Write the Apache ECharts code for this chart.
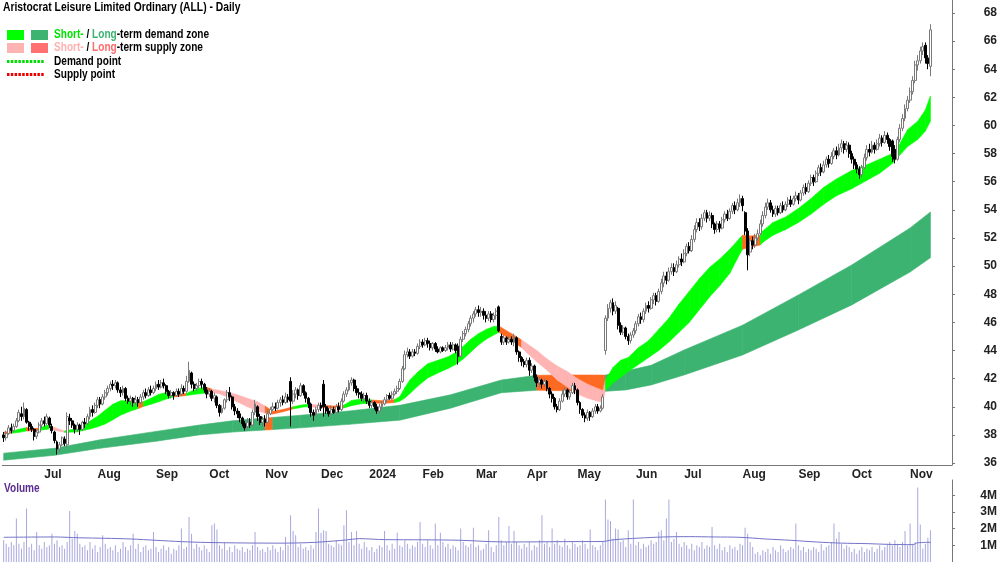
<!DOCTYPE html>
<html lang="en">
<head>
<meta charset="UTF-8">
<title>Aristocrat Leisure Limited Ordinary (ALL) - Daily</title>
<script src="https://cdn.jsdelivr.net/npm/echarts@6/dist/echarts.min.js"></script>
<style>
  html, body { margin: 0; padding: 0; background: #fff; }
  #chart { width: 1000px; height: 562px; }
</style>
</head>
<body>
<div id="chart"></div>
<script>
// trading days start here, ASX holidays skipped, a few empty days kept on the right
var firstDay = [2023, 5, 8];
var asxHolidays = ['2023-06-12', '2023-12-25', '2023-12-26', '2024-01-01', '2024-01-26',
  '2024-03-29', '2024-04-01', '2024-04-25', '2024-06-10'];
var padDays = 8;
var monthNames = ['Jan', 'Feb', 'Mar', 'Apr', 'May', 'Jun', 'Jul', 'Aug', 'Sep', 'Oct', 'Nov', 'Dec'];

// daily candles [open, close, low, high]
var ohlc = [
  [38.0,37.8,37.5,38.2],[37.8,38.1,37.6,38.3],[38.1,38.5,38.0,38.7],[38.5,38.3,38.1,38.8],[38.3,38.6,38.2,38.8],
  [38.6,39.0,38.5,39.2],[39.0,39.6,38.9,39.8],[39.5,39.3,39.0,40.0],[39.3,39.9,39.1,40.3],[39.8,38.9,38.8,39.9],
  [38.9,38.6,38.3,39.0],[38.6,38.4,38.2,38.8],[38.4,37.9,37.6,38.5],[37.9,38.2,37.7,38.4],[38.2,38.7,38.1,38.9],
  [38.7,39.0,38.5,39.2],[39.0,38.8,38.6,39.3],[38.8,39.3,38.7,39.5],[39.2,38.7,38.5,39.3],[38.6,38.3,38.1,38.8],
  [38.2,37.6,37.4,38.3],[37.5,37.0,36.6,37.6],[37.0,37.3,36.8,37.5],[37.3,37.8,37.2,37.9],[37.7,37.4,37.2,37.9],
  [37.3,39.3,37.1,39.6],[39.2,39.0,38.7,39.5],[39.0,38.7,38.5,39.2],[38.7,38.4,38.1,38.8],[38.4,38.7,38.2,38.9],
  [38.7,38.4,38.0,38.8],[38.4,38.9,38.3,39.0],[38.9,38.8,38.5,39.2],[38.8,39.3,38.7,39.5],[39.3,39.8,39.1,40.0],
  [39.8,39.6,39.3,40.1],[39.6,40.1,39.5,40.3],[40.1,40.5,39.9,40.7],[40.5,40.2,39.9,40.7],[40.2,40.7,40.1,40.9],
  [40.7,41.0,40.5,41.2],[41.0,41.3,40.8,41.5],[41.3,41.6,41.1,41.8],[41.6,41.5,41.2,41.9],[41.5,41.7,41.3,41.9],
  [41.7,41.2,41.0,41.8],[41.2,41.0,40.7,41.4],[41.0,41.3,40.8,41.5],[41.3,40.6,40.4,41.4],[40.6,40.4,40.2,40.8],
  [40.4,40.6,40.1,40.8],[40.6,40.3,40.0,40.7],[40.3,40.5,40.1,40.8],[40.5,40.3,40.0,40.7],[40.3,40.7,40.2,40.9],
  [40.7,41.0,40.5,41.2],[41.0,40.8,40.6,41.3],[40.8,41.2,40.7,41.4],[41.2,41.0,40.8,41.5],[41.0,41.3,40.9,41.5],
  [41.3,41.6,41.1,41.8],[41.6,41.4,41.2,41.9],[41.4,41.7,41.3,41.9],[41.7,41.5,41.3,42.0],[41.5,41.1,40.9,41.6],
  [41.1,40.8,40.6,41.2],[40.8,41.0,40.6,41.2],[41.0,40.8,40.5,41.1],[40.8,41.1,40.7,41.3],[41.1,40.9,40.7,41.3],
  [40.9,41.3,40.8,41.6],[41.3,41.1,40.9,41.5],[41.1,41.8,41.0,42.2],[41.8,42.6,41.7,43.2],[42.4,41.6,41.3,42.5],
  [41.6,41.3,41.1,41.8],[41.3,41.5,41.1,41.7],[41.5,41.8,41.3,42.0],[41.8,41.6,41.3,42.0],[41.6,41.2,41.0,41.7],
  [41.2,40.9,40.6,41.4],[40.9,41.1,40.7,41.3],[41.1,40.6,40.4,41.2],[40.6,40.8,40.3,41.0],[40.7,40.1,39.9,40.8],
  [40.1,39.6,39.3,40.2],[39.6,39.9,39.5,40.1],[39.9,40.5,39.8,40.6],[40.5,41.0,40.3,41.2],[41.0,40.7,40.4,41.4],
  [40.7,40.0,39.8,40.8],[40.0,39.7,39.4,40.2],[39.7,39.5,39.2,39.9],[39.5,39.2,38.9,39.7],[39.2,38.8,38.6,39.3],
  [38.8,38.5,38.3,39.0],[38.6,38.9,38.4,39.2],[38.9,38.7,38.5,39.2],[38.7,39.6,38.6,39.8],[39.6,40.2,39.4,40.5],
  [40.0,39.3,39.0,40.1],[39.3,38.9,38.7,39.5],[38.9,39.1,38.6,39.3],[39.1,38.9,38.6,39.4],[38.9,39.5,38.8,39.8],
  [39.5,39.8,39.4,40.0],[39.8,40.0,39.7,40.3],[40.0,39.9,39.7,40.3],[39.9,40.3,39.8,40.5],[40.3,40.5,40.0,40.7],
  [40.5,40.3,40.1,40.8],[40.3,40.7,40.2,41.0],[40.7,40.5,40.3,40.9],[41.8,40.4,38.6,42.1],[40.4,40.9,40.2,41.2],
  [40.9,41.2,40.6,41.4],[41.2,40.8,40.5,41.3],[40.8,41.5,40.7,41.7],[41.5,41.0,40.8,41.6],[41.0,40.6,40.3,41.1],
  [40.6,40.2,39.9,40.7],[40.2,39.6,39.3,40.3],[39.6,39.4,39.0,39.8],[39.4,39.8,39.3,40.0],[39.8,40.1,39.6,40.3],
  [40.1,39.9,39.7,40.3],[41.6,40.0,39.3,41.9],[40.0,39.7,39.5,40.2],[39.7,39.5,39.3,39.9],[39.5,39.8,39.4,40.1],
  [39.8,39.6,39.5,40.0],[39.6,40.0,39.5,40.2],[40.0,39.8,39.6,40.3],[39.8,40.4,39.7,40.6],[40.4,40.9,40.3,41.1],
  [40.9,41.2,40.7,41.4],[41.2,41.7,41.1,41.9],[41.7,41.9,41.5,42.1],[41.9,41.3,41.1,42.0],[41.3,41.0,40.8,41.5],
  [41.0,40.9,40.6,41.3],[40.9,40.6,40.4,41.1],[40.6,40.8,40.3,41.0],[40.8,40.4,40.2,41.0],[40.4,40.1,39.9,40.6],
  [40.1,40.3,39.9,40.5],[40.3,40.0,39.8,40.4],[40.0,39.7,39.5,40.2],[39.7,40.0,39.5,40.2],[40.0,40.2,39.8,40.4],
  [40.2,40.5,40.1,40.7],[40.5,40.8,40.3,40.9],[40.8,40.6,40.5,41.0],[40.6,40.9,40.5,41.1],[40.9,41.1,40.8,41.3],
  [41.1,41.3,40.9,41.5],[41.3,41.8,41.2,42.0],[41.8,42.7,41.7,42.9],[42.7,43.7,42.6,44.0],[43.7,43.9,43.5,44.2],
  [43.9,43.6,43.4,44.1],[43.6,43.9,43.5,44.1],[43.9,43.8,43.6,44.1],[43.8,44.3,43.7,44.5],[44.3,44.6,44.1,44.8],
  [44.6,44.4,44.2,44.8],[44.4,44.7,44.3,44.9],[44.7,44.5,44.2,44.9],[44.5,44.2,44.0,44.7],[44.2,44.5,44.0,44.6],
  [44.5,44.1,43.9,44.6],[44.1,43.9,43.8,44.3],[43.9,44.2,43.8,44.3],[44.2,44.0,43.9,44.3],[44.0,44.2,43.9,44.4],
  [44.2,44.4,44.0,44.6],[44.4,44.1,43.9,44.6],[44.1,44.4,44.0,44.6],[44.4,44.0,43.8,44.5],[44.3,43.6,43.0,44.5],
  [43.6,44.8,43.5,45.0],[44.8,45.2,44.6,45.4],[45.2,45.5,45.0,45.7],[45.5,45.9,45.3,46.1],[45.9,46.3,45.7,46.5],
  [46.3,46.6,46.0,46.8],[46.6,46.9,46.4,47.1],[46.9,46.7,46.4,47.2],[46.7,46.8,46.4,47.1],[46.8,46.5,46.2,47.0],
  [46.5,46.3,46.0,46.8],[46.3,46.6,46.1,46.8],[46.6,46.2,46.0,46.8],[46.2,46.5,46.0,46.7],[46.5,46.8,46.2,47.0],
  [47.1,45.4,45.3,47.2],[45.0,44.6,44.4,45.2],[44.6,44.9,44.4,45.1],[44.9,44.6,44.4,45.0],[44.6,44.8,44.5,45.0],
  [44.8,44.6,44.4,45.0],[44.6,45.0,44.3,45.2],[44.9,43.9,43.7,45.0],[43.9,43.5,43.2,44.0],[43.5,43.2,42.9,43.6],
  [43.2,43.0,42.8,43.4],[43.0,43.3,42.8,43.5],[43.3,42.6,42.2,43.5],[42.6,42.9,42.4,43.1],[42.9,42.1,41.8,43.0],
  [42.1,41.7,41.4,42.3],[41.7,41.9,41.4,42.1],[41.9,41.6,41.3,42.0],[41.6,41.8,41.4,42.0],[41.8,41.3,41.1,41.9],
  [41.3,40.9,40.6,41.4],[40.9,40.6,40.3,41.1],[40.6,40.0,39.8,40.7],[40.0,39.8,39.6,40.2],[39.8,40.4,39.7,40.6],
  [40.4,40.9,40.3,41.2],[40.9,41.2,40.7,41.4],[41.2,40.7,40.5,41.3],[40.7,41.0,40.5,41.2],[41.0,41.5,40.9,41.7],
  [41.5,41.2,40.9,41.7],[41.2,40.3,40.1,41.3],[40.3,39.8,39.5,40.4],[39.8,39.4,39.2,39.9],[39.4,39.2,38.9,39.6],
  [39.2,39.6,39.0,39.8],[39.6,39.3,39.0,39.7],[39.3,39.7,39.2,39.9],[39.7,40.0,39.5,40.2],[40.0,39.7,39.5,40.2],
  [39.7,39.9,39.6,40.1],[39.9,40.7,39.8,40.9],[44.0,46.3,43.7,46.5],[46.3,47.0,46.1,47.3],[47.0,47.4,46.7,47.6],
  [47.4,46.8,46.5,47.7],[46.8,47.2,46.6,47.5],[47.0,45.8,45.5,47.1],[45.8,45.3,45.1,46.0],[45.3,45.6,45.1,45.8],
  [45.6,45.0,44.8,45.7],[45.0,44.7,44.4,45.2],[44.7,45.1,44.5,45.3],[45.1,45.4,44.9,45.6],[45.4,45.9,45.2,46.1],
  [45.9,46.4,45.7,46.6],[46.4,46.2,45.9,46.7],[46.2,46.8,46.0,47.0],[46.8,47.2,46.6,47.4],[47.2,47.0,46.7,47.5],
  [47.0,47.6,46.9,47.8],[47.6,47.9,47.3,48.1],[47.9,47.5,47.2,48.1],[47.5,48.2,47.4,48.4],[48.2,48.8,48.0,49.1],
  [48.8,49.3,48.5,49.6],[49.3,49.0,48.7,49.6],[49.0,49.6,48.9,49.9],[49.6,49.9,49.4,50.2],[49.9,49.6,49.3,50.2],
  [49.6,50.1,49.5,50.4],[50.1,50.5,49.9,50.7],[50.5,50.3,50.0,50.9],[50.3,50.9,50.2,51.2],[50.9,51.4,50.7,51.6],
  [51.4,51.1,50.9,51.7],[51.1,51.9,51.0,52.2],[51.9,52.6,51.7,52.9],[52.6,53.1,52.4,53.4],[53.1,52.8,52.5,53.4],
  [52.8,53.4,52.6,53.7],[53.4,53.8,53.2,54.0],[53.8,53.4,53.1,54.0],[53.4,53.6,53.2,53.9],[53.6,53.0,52.7,53.8],
  [53.0,52.6,52.3,53.1],[52.6,53.0,52.4,53.2],[53.0,52.7,52.4,53.2],[52.7,53.3,52.6,53.5],[53.3,53.7,53.1,53.9],
  [53.7,53.4,53.2,54.0],[53.4,53.9,53.3,54.1],[53.9,54.3,53.7,54.5],[54.3,54.0,53.7,54.6],[54.0,54.5,53.9,54.8],
  [54.5,54.8,54.2,55.1],[54.8,54.3,53.9,55.0],[53.8,52.5,52.2,53.9],[52.5,50.8,49.7,52.7],[51.0,51.8,50.7,52.0],
  [51.8,51.5,51.2,52.1],[51.5,52.0,51.3,52.3],[52.0,52.3,51.8,52.6],[52.3,53.0,52.2,53.3],[53.0,53.6,52.8,53.9],
  [53.6,54.2,53.4,54.5],[54.2,54.5,54.0,54.8],[54.5,54.0,53.8,54.7],[54.0,53.7,53.5,54.3],[53.7,54.1,53.5,54.3],
  [54.1,53.8,53.6,54.3],[53.8,54.3,53.7,54.5],[54.3,54.0,53.8,54.6],[54.0,54.4,53.9,54.6],[54.4,54.7,54.2,54.9],
  [54.7,54.4,54.2,55.0],[54.4,54.8,54.3,55.0],[54.8,55.0,54.6,55.3],[55.0,54.7,54.4,55.2],[54.7,55.2,54.6,55.4],
  [55.2,55.6,55.0,55.8],[55.6,55.3,55.1,55.9],[55.3,55.9,55.2,56.1],[55.9,56.3,55.7,56.5],[56.3,56.0,55.7,56.5],
  [56.0,56.6,55.9,56.8],[56.6,57.0,56.4,57.2],[57.0,56.7,56.4,57.3],[56.7,57.2,56.6,57.5],[57.2,57.6,57.0,57.8],
  [57.6,57.3,57.0,57.9],[57.3,57.8,57.2,58.1],[57.8,58.2,57.6,58.4],[58.2,57.9,57.6,58.5],[57.9,58.4,57.8,58.7],
  [58.4,58.7,58.1,59.0],[58.7,58.3,58.0,58.9],[58.3,58.6,58.1,58.9],[58.6,58.0,57.7,58.8],[58.0,57.6,57.3,58.2],
  [57.6,57.2,56.9,57.8],[57.2,56.9,56.6,57.4],[56.9,56.5,56.2,57.1],[56.5,57.0,56.3,57.2],[57.0,57.7,56.9,58.0],
  [57.7,58.3,57.5,58.6],[58.3,58.1,57.8,58.7],[58.1,58.6,58.0,58.9],[58.6,58.3,58.0,58.8],[58.3,58.7,58.2,59.0],
  [58.7,59.1,58.5,59.4],[59.1,58.8,58.5,59.3],[58.8,59.3,58.7,59.6],[59.3,59.0,58.7,59.5],[59.0,58.5,58.2,59.1],
  [58.9,57.8,57.4,59.0],[58.3,57.6,57.3,58.6],[57.6,59.0,57.5,59.2],[59.0,59.8,58.8,60.1],[59.8,60.5,59.6,60.8],
  [60.5,61.2,60.3,61.5],[61.2,61.8,61.0,62.1],[61.8,62.4,61.6,62.7],[62.4,63.2,62.2,63.5],[63.2,64.3,63.0,64.6],
  [64.3,64.6,63.9,65.0],[64.6,65.3,64.4,65.6],[65.3,65.6,65.0,65.9],[65.7,64.8,64.4,65.9],[64.8,64.4,64.0,65.0],
  [64.2,66.8,63.5,67.2]
];

// daily volume, millions
var volumes = [
  1.3,1.1,0.9,1.2,1.0,2.6,1.1,0.8,1.2,3.2,0.9,1.1,0.7,1.8,1.0,0.8,1.2,0.9,1.0,1.7,
  1.1,1.3,0.9,1.0,0.8,1.2,3.05,1.4,1.85,1.7,1.1,0.9,1.0,0.7,1.2,0.8,1.0,0.6,0.9,1.6,
  1.1,0.8,0.9,0.7,1.0,0.6,0.8,1.2,0.9,0.7,1.0,1.7,0.8,1.1,0.6,0.9,1.0,0.7,0.8,1.8,
  0.9,0.6,0.8,1.0,0.7,0.9,0.5,0.8,0.7,1.0,2.0,0.8,0.9,2.7,1.7,0.8,1.1,0.9,0.7,1.0,
  0.8,0.6,2.2,2.3,1.95,1.0,0.8,1.2,0.7,0.9,0.6,1.0,0.8,0.7,0.9,0.6,0.8,0.7,1.0,1.8,
  0.9,0.7,0.8,0.6,0.9,0.7,1.0,0.8,0.6,0.9,0.7,1.5,1.0,2.8,1.85,1.6,0.9,1.1,0.8,0.9,
  0.7,1.0,0.8,1.8,3.2,1.75,1.9,1.85,1.1,1.0,0.9,1.3,1.1,1.0,2.2,3.1,1.2,1.8,1.0,1.85,
  1.1,0.8,1.2,0.9,0.7,0.9,0.6,0.8,1.0,0.9,1.85,1.0,0.7,1.1,0.8,1.75,1.0,0.9,1.3,1.1,
  0.8,1.0,0.9,1.2,2.4,1.1,0.9,1.3,1.0,0.8,2.3,1.0,1.75,1.2,0.9,1.1,0.8,1.0,0.9,0.7,
  2.0,1.2,1.0,0.9,1.1,2.05,0.9,1.0,0.7,0.8,1.1,1.9,0.9,0.6,1.0,2.7,1.3,1.0,1.2,2.15,
  1.1,1.85,1.2,1.0,0.8,1.1,0.9,1.2,0.7,1.0,0.9,1.3,2.8,1.1,1.2,0.9,2.0,1.1,1.3,1.0,
  0.9,1.4,1.0,0.8,1.2,1.1,0.9,1.0,1.3,1.1,0.8,1.95,1.0,0.9,0.7,1.0,1.2,3.75,2.55,2.45,
  1.4,2.0,1.95,1.2,1.3,0.9,1.9,1.1,3.75,1.0,1.2,0.8,1.1,0.9,1.0,1.3,1.1,1.2,1.8,1.9,
  1.3,2.6,3.75,1.2,1.4,1.8,1.1,0.9,1.2,1.0,0.8,1.1,0.7,1.0,0.9,1.2,0.8,1.0,0.9,2.1,
  1.0,0.8,1.1,0.7,0.9,0.6,1.0,0.8,0.9,0.7,1.1,1.0,2.05,1.7,1.2,0.9,0.5,0.6,0.4,0.7,
  0.6,0.8,0.5,0.9,0.7,0.6,1.0,0.8,0.6,0.7,0.9,0.8,2.3,1.0,0.7,0.9,0.6,0.8,0.7,0.9,
  0.8,0.6,1.1,0.7,0.9,1.0,1.2,2.3,1.4,1.8,1.1,0.8,1.0,0.9,0.6,0.8,0.5,0.7,0.9,0.6,
  0.8,0.7,0.9,0.6,0.8,1.0,0.7,0.9,1.1,1.2,1.0,1.3,1.1,0.9,1.2,1.85,1.0,2.3,1.1,1.2,
  4.47,2.25,0.8,1.1,1.45,1.9
];

// volume average line [day index, millions]
var volumeAvg = [
  [0,1.48],[20,1.5],[30,1.45],[40,1.42],[50,1.38],[60,1.3],[70,1.22],[80,1.17],[95,1.14],
  [110,1.13],[120,1.16],[125,1.2],[135,1.32],[140,1.4],[150,1.34],[165,1.33],[180,1.3],
  [192,1.22],[200,1.2],[220,1.22],[236,1.23],[240,1.33],[250,1.43],[260,1.5],[270,1.52],
  [280,1.5],[290,1.48],[300,1.38],[310,1.3],[320,1.2],[330,1.13],[340,1.1],[350,1.05],
  [358,1.04],[360,1.15],[365,1.18]
];

// short-term zone [day index, lower, upper, state of the stretch that starts here]
var shortZone = [
  [0,38.10,38.20,'o'],[3,38.12,38.25,'g'],[6,38.18,38.40,'g'],[9,38.28,38.52,'o'],[12,38.30,38.45,'o'],
  [14,38.32,38.48,'g'],[17,38.40,38.68,'g'],[18,38.42,38.66,'p'],[21,38.30,38.46,'p'],[24,38.18,38.28,'g'],
  [28,38.20,38.42,'g'],[31,38.30,38.66,'g'],[34,38.42,38.98,'g'],[37,38.58,39.32,'g'],[40,38.78,39.76,'g'],
  [43,39.08,40.18,'g'],[46,39.40,40.42,'g'],[50,39.70,40.45,'g'],[53,39.88,40.40,'o'],[55,40.02,40.36,'g'],
  [58,40.18,40.60,'g'],[61,40.35,40.88,'g'],[64,40.55,41.02,'g'],[67,40.70,41.00,'o'],[72,40.80,40.95,'g'],
  [74,40.86,41.12,'g'],[77,40.92,41.32,'g'],[80,40.98,41.38,'o'],[82,41.02,41.26,'p'],[85,40.92,41.16,'p'],
  [88,40.70,41.05,'p'],[92,40.35,40.85,'p'],[96,40.00,40.60,'p'],[100,39.70,40.35,'p'],[103,39.55,40.05,'o'],
  [106,39.48,39.68,'o'],[110,39.65,39.80,'o'],[114,39.85,40.00,'g'],[118,39.98,40.14,'g'],[120,40.00,40.18,'p'],
  [124,39.95,40.12,'o'],[130,39.88,40.05,'o'],[134,39.92,40.12,'g'],[137,40.08,40.45,'g'],[141,40.22,40.55,'g'],
  [145,40.25,40.48,'o'],[150,40.25,40.42,'o'],[154,40.30,40.52,'g'],[156,40.40,40.72,'g'],[158,40.62,41.35,'g'],
  [160,40.95,41.90,'g'],[163,41.45,42.45,'g'],[167,42.05,43.05,'g'],[171,42.40,43.30,'g'],[175,42.72,43.55,'g'],
  [178,43.00,43.85,'g'],[181,43.40,44.30,'g'],[184,43.90,44.80,'g'],[187,44.40,45.20,'g'],[190,44.80,45.50,'g'],
  [193,45.10,45.70,'g'],[195,45.30,45.75,'o'],[200,44.75,45.20,'o'],[204,44.20,44.75,'p'],[206,43.85,44.50,'p'],
  [210,43.20,44.00,'p'],[214,42.60,43.40,'p'],[218,41.90,42.90,'p'],[222,41.40,42.50,'p'],[226,40.90,42.00,'p'],
  [230,40.60,41.60,'p'],[234,40.40,41.30,'p'],[236,40.35,41.15,'p'],[237,41.15,41.90,'g'],[240,41.70,42.80,'g'],
  [243,42.10,43.30,'g'],[246,42.50,43.50,'g'],[250,43.00,44.20,'g'],[254,43.50,44.70,'g'],[258,44.00,45.50,'g'],
  [262,44.60,46.30,'g'],[266,45.30,47.30,'g'],[270,46.00,48.20,'g'],[274,46.90,49.10,'g'],[278,47.80,49.90,'g'],
  [282,48.60,50.50,'g'],[286,49.50,51.20,'g'],[290,50.90,52.00,'g'],[291,51.20,52.20,'o'],[294,51.35,52.15,'o'],
  [298,51.50,52.20,'g'],[299,51.70,52.50,'g'],[303,52.20,53.10,'g'],[308,52.60,53.50,'g'],[313,53.10,54.10,'g'],
  [318,53.70,54.80,'g'],[323,54.40,55.60,'g'],[328,55.00,56.20,'g'],[334,55.50,56.80,'g'],[340,56.10,57.20,'g'],
  [345,56.60,57.60,'g'],[350,57.30,58.00,'g'],[352,57.70,58.40,'g'],[356,58.50,59.70,'g'],[360,59.00,60.30,'g'],
  [363,59.60,61.10,'g'],[365,60.30,62.10,'g']
];

// long-term zone [day index, lower, upper, state]
var longZone = [
  [0,36.20,36.70,'G'],[20,36.55,37.05,'G'],[38,37.05,37.65,'G'],[60,37.55,38.25,'G'],[77,38.00,38.70,'G'],
  [90,38.20,39.00,'G'],[103,38.35,39.20,'o'],[106,38.38,39.24,'G'],[117,38.50,39.40,'G'],[136,38.75,39.70,'G'],
  [156,39.05,40.10,'G'],[176,39.90,40.85,'G'],[196,41.00,41.90,'G'],[210,41.18,42.24,'o'],[225,41.12,42.26,'o'],
  [237,41.10,42.25,'G'],[245,41.20,42.54,'G'],[255,41.55,42.95,'G'],[268,42.26,44.04,'G'],[291,43.68,45.80,'G'],
  [313,45.46,47.95,'G'],[334,47.24,50.08,'G'],[357,49.58,52.71,'G'],[365,50.60,53.85,'G']
];

var zoneColors = { g: '#00FF00', G: '#3CB371', p: '#FFB4B4', o: '#FF6A22' };
var priceTicks = [36, 38, 40, 42, 44, 46, 48, 50, 52, 54, 56, 58, 60, 62, 64, 66, 68];
var volumeTicks = [1, 2, 3, 4];

var FONT = "'Liberation Sans', Arial, sans-serif";
var NARROW = 0.84; // the original uses a condensed face

function pad2(n) { return n < 10 ? '0' + n : '' + n; }

// list of ASX trading days
function tradingDays(count) {
  var out = [];
  var d = Date.UTC(firstDay[0], firstDay[1], firstDay[2]);
  while (out.length < count) {
    var dt = new Date(d);
    var key = dt.getUTCFullYear() + '-' + pad2(dt.getUTCMonth() + 1) + '-' + pad2(dt.getUTCDate());
    var wd = dt.getUTCDay();
    if (wd != 0 && wd != 6 && asxHolidays.indexOf(key) < 0) out.push(key);
    d += 86400000;
  }
  return out;
}

var dates = tradingDays(ohlc.length + padDays);

function isMonthStart(i) {
  return i > 0 && dates[i].slice(5, 7) != dates[i - 1].slice(5, 7);
}

function monthLabel(v) {
  var m = +v.slice(5, 7) - 1;
  return m == 0 ? v.slice(0, 4) : monthNames[m];
}

function zoneSeries(zone, z) {
  return {
    type: 'custom',
    xAxisIndex: 0,
    yAxisIndex: 0,
    silent: true,
    z: z,
    data: zone.map(function (r) { return [r[0], r[1], r[2]]; }),
    encode: { x: 0, y: [1, 2] },
    renderItem: function (params, api) {
      var j = params.dataIndex;
      if (j >= zone.length - 1) return;
      var a = zone[j], b = zone[j + 1];
      var col = zoneColors[a[3]];
      return {
        type: 'polygon',
        shape: {
          points: [
            api.coord([a[0], a[2]]), api.coord([b[0], b[2]]),
            api.coord([b[0], b[1]]), api.coord([a[0], a[1]])
          ]
        },
        style: { fill: col, stroke: col, lineWidth: 0.6 }
      };
    }
  };
}

function legendText(x, y, text, rich) {
  return {
    type: 'text', x: x, y: y, scaleX: NARROW,
    style: { text: text, font: 'bold 12px ' + FONT, fill: '#000', verticalAlign: 'middle', rich: rich || {} }
  };
}

var axisCol = '#777';
var labelStyle = { color: '#222', fontFamily: FONT, fontWeight: 'bold', fontSize: 12 };

var chart = echarts.init(document.getElementById('chart'));

var option = {
  animation: false,
  backgroundColor: '#fff',
  grid: [
    { left: 2.4, right: 48, top: 0, height: 465 },
    { left: 2.4, right: 48, top: 480, height: 85 }
  ],
  xAxis: [
    {
      type: 'category', gridIndex: 0, data: dates, boundaryGap: true,
      axisLine: { lineStyle: { color: axisCol, width: 1 } },
      axisTick: { interval: function (i) { return isMonthStart(i); }, alignWithLabel: true, length: 3, lineStyle: { color: axisCol } },
      axisLabel: {
        interval: function (i) { return isMonthStart(i); },
        formatter: monthLabel, align: 'left', margin: 4,
        color: '#222', fontFamily: FONT, fontWeight: 'bold', fontSize: 12
      },
      splitLine: { show: false }
    },
    {
      type: 'category', gridIndex: 1, data: dates, boundaryGap: true, position: 'top',
      axisLine: { lineStyle: { color: axisCol, width: 1 } },
      axisTick: { show: false }, axisLabel: { show: false }, splitLine: { show: false }
    }
  ],
  yAxis: [
    {
      type: 'value', gridIndex: 0, position: 'right', min: 35.86, max: 68.92, scale: true,
      axisLine: { show: true, lineStyle: { color: axisCol } },
      axisTick: { show: true, length: 3, customValues: priceTicks, lineStyle: { color: axisCol } },
      axisLabel: Object.assign({ customValues: priceTicks, align: 'right', margin: 45 }, labelStyle),
      splitLine: { show: false }
    },
    {
      type: 'value', gridIndex: 1, position: 'right', min: 0, max: 4.913,
      axisLine: { show: true, lineStyle: { color: axisCol } },
      axisTick: { show: true, length: 3, customValues: volumeTicks, lineStyle: { color: axisCol } },
      axisLabel: Object.assign({ customValues: volumeTicks, align: 'right', margin: 45, formatter: function (v) { return v + 'M'; } }, labelStyle),
      splitLine: { show: false }
    }
  ],
  graphic: [
    { type: 'text', x: 3, y: 2, scaleX: 0.86, style: { text: 'Aristocrat Leisure Limited Ordinary (ALL) - Daily', font: 'bold 12px ' + FONT, fill: '#000' } },
    { type: 'rect', shape: { x: 7, y: 30, width: 17, height: 10 }, style: { fill: '#00FF00' } },
    { type: 'rect', shape: { x: 31, y: 30, width: 17, height: 10 }, style: { fill: '#3CB371' } },
    { type: 'rect', shape: { x: 7, y: 43, width: 17, height: 10 }, style: { fill: '#FFB4B4' } },
    { type: 'rect', shape: { x: 31, y: 43, width: 17, height: 10 }, style: { fill: '#FF7070' } },
    { type: 'line', shape: { x1: 7, y1: 61.5, x2: 45, y2: 61.5 }, style: { stroke: '#00DD00', lineWidth: 3, lineDash: [2.5, 1.3] } },
    { type: 'line', shape: { x1: 7, y1: 74.5, x2: 45, y2: 74.5 }, style: { stroke: '#EE0000', lineWidth: 3, lineDash: [2.5, 1.3] } },
    legendText(54, 35, '{a|Short-} / {b|Long}-term demand zone', {
      a: { fill: '#00E000', font: 'bold 12px ' + FONT }, b: { fill: '#3CB371', font: 'bold 12px ' + FONT }
    }),
    legendText(54, 48, '{a|Short-} / {b|Long}-term supply zone', {
      a: { fill: '#FFB0B0', font: 'bold 12px ' + FONT }, b: { fill: '#FF6A6A', font: 'bold 12px ' + FONT }
    }),
    legendText(54, 62, 'Demand point'),
    legendText(54, 75, 'Supply point'),
    { type: 'text', x: 4, y: 489, scaleX: NARROW, style: { text: 'Volume', font: 'bold 12px ' + FONT, fill: '#5A2D90', verticalAlign: 'middle' } }
  ],
  series: [
    zoneSeries(longZone, 1),
    zoneSeries(shortZone, 2),
    {
      type: 'candlestick', xAxisIndex: 0, yAxisIndex: 0, z: 3,
      data: ohlc, barWidth: 2.4,
      itemStyle: { color: '#ffffff', color0: '#000000', borderColor: '#7a7a7a', borderColor0: '#000000', borderWidth: 1 }
    },
    {
      type: 'bar', xAxisIndex: 1, yAxisIndex: 1, data: volumes, barWidth: 1,
      itemStyle: { color: '#A8A8DF' }, silent: true
    },
    {
      type: 'line', xAxisIndex: 1, yAxisIndex: 1, data: volumeAvg, showSymbol: false, smooth: 0.3,
      lineStyle: { color: '#7373C9', width: 1 }, silent: true, z: 4
    }
  ]
};

chart.setOption(option);
</script>
</body>
</html>
